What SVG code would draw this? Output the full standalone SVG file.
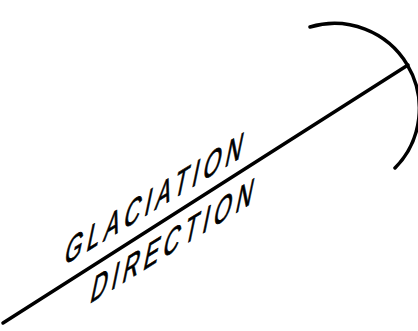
<svg xmlns="http://www.w3.org/2000/svg" width="418" height="331" viewBox="0 0 418 331">
<style>
.ln{fill:none;stroke:#000;stroke-width:3.5;stroke-linecap:round}
.lbl{font-family:"Liberation Sans",Arial,sans-serif;font-size:34px;letter-spacing:7.2px;fill:#000;stroke:#000;stroke-width:0.7}
</style>
<rect width="418" height="331" fill="#fff"/>
<g id="connectors">
<path class="ln" d="M3,323 L408,65"/>
<path class="ln" d="M310,27 A85,85 0 0 1 395,168"/>
</g>
<g id="label-glaciation">
<text class="lbl" transform="matrix(1,-0.61,0,1,63,266) scale(0.66,1) skewX(-20)" x="0" y="0">GLACIATION</text>
</g>
<g id="label-direction">
<text class="lbl" transform="matrix(1,-0.62,0,1,89,304) scale(0.66,1) skewX(-20)" x="0" y="0">DIRECTION</text>
</g>
</svg>
